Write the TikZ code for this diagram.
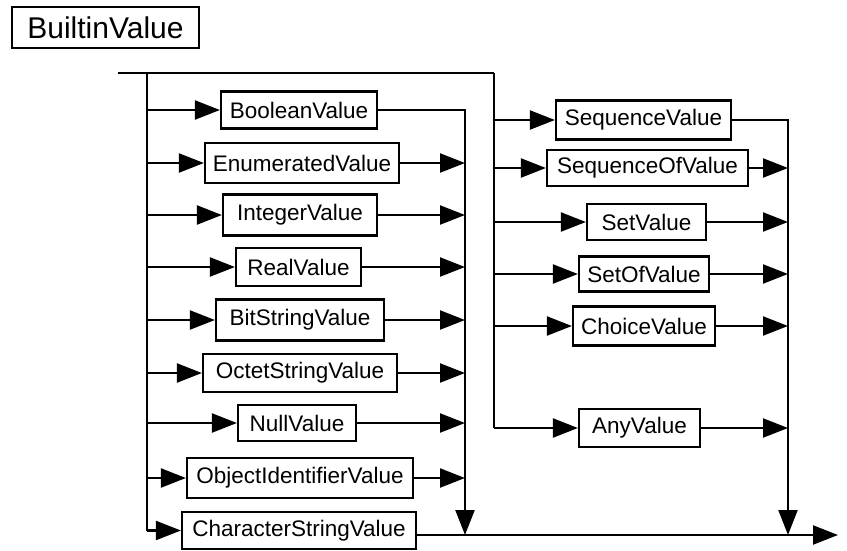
\documentclass[tikz,border=0pt]{standalone}
\usepackage{fontspec}
\setmainfont{Liberation Sans}
\usetikzlibrary{arrows.meta}
\begin{document}
\begin{tikzpicture}[x=1pt,y=-1pt,
  line width=2.2pt,
  valbox/.style={draw, line width=2.2pt, minimum height=38pt, inner sep=0pt,
    font=\fontsize{22.5}{24}\selectfont},
  titlebox/.style={draw, line width=2.2pt, minimum height=41pt, minimum width=187pt, inner sep=0pt,
    font=\fontsize{30}{32}\selectfont},
  arr/.style={-{Triangle[length=25pt,width=19pt]}}]
\useasboundingbox (0,0) rectangle (847,550);

\node[titlebox] (title) at (105.5,27.5) {BuiltinValue};

% left column boxes
\node[valbox, minimum width=156pt, minimum height=37pt] (bool) at (299,110) {BooleanValue};
\node[valbox, minimum width=194pt, minimum height=40pt] (enum) at (302,163) {EnumeratedValue};
\node[valbox, minimum width=154pt, minimum height=41pt] (int) at (300,215) {IntegerValue};
\node[valbox, minimum width=125pt] (real) at (298.5,267) {RealValue};
\node[valbox, minimum width=168pt, minimum height=41pt] (bit) at (300,320) {BitStringValue};
\node[valbox, minimum width=194pt] (oct) at (300,373) {OctetStringValue};
\node[valbox, minimum width=118pt, minimum height=36pt] (null) at (297,423) {NullValue};
\node[valbox, minimum width=226pt, minimum height=40pt] (oid) at (300,478) {ObjectIdentifierValue};
\node[valbox, minimum width=234pt, minimum height=37pt] (char) at (299,530.5) {CharacterStringValue};

% right column boxes
\node[valbox, minimum width=175pt, minimum height=39pt] (seq) at (643.5,120) {SequenceValue};
\node[valbox, minimum width=201pt, minimum height=36pt] (seqof) at (647.5,168) {SequenceOfValue};
\node[valbox, minimum width=119pt, minimum height=36pt] (set) at (646.5,222) {SetValue};
\node[valbox, minimum width=130pt, minimum height=35pt] (setof) at (644,274) {SetOfValue};
\node[valbox, minimum width=142pt, minimum height=39pt] (choice) at (644,326) {ChoiceValue};
\node[valbox, minimum width=121pt, minimum height=38pt] (any) at (639.5,428) {AnyValue};

% key coordinates
\coordinate (start) at (118,73);
\coordinate (ltop) at (147,73);
\coordinate (rtop) at (494,73);
\coordinate (ljoin) at (465,110);
\coordinate (lend) at (465,535);
\coordinate (rjoin) at (788,120);
\coordinate (rend) at (788,535);
\coordinate (finish) at (838,535);

% top rail and trunks
\draw (start) -- (rtop);
\draw (ltop) -- (ltop |- char.west);
\draw (rtop) -- (rtop |- any.west);

% left branches in
\foreach \n in {bool,enum,int,real,bit,oct,null,oid,char}
  \draw[arr] (ltop |- \n.west) -- (\n.west);
% right branches in
\foreach \n in {seq,seqof,set,setof,choice,any}
  \draw[arr] (rtop |- \n.west) -- (\n.west);

% left outputs
\draw[arr] (bool.east) -- (ljoin) -- (lend);
\foreach \n in {enum,int,real,bit,oct,null,oid}
  \draw[arr] (\n.east) -- (ljoin |- \n.east);

% right outputs
\draw[arr] (seq.east) -- (rjoin) -- (rend);
\foreach \n in {seqof,set,setof,choice,any}
  \draw[arr] (\n.east) -- (rjoin |- \n.east);

% exit
\draw[arr] (char.east |- lend) -- (finish);
\end{tikzpicture}
\end{document}
